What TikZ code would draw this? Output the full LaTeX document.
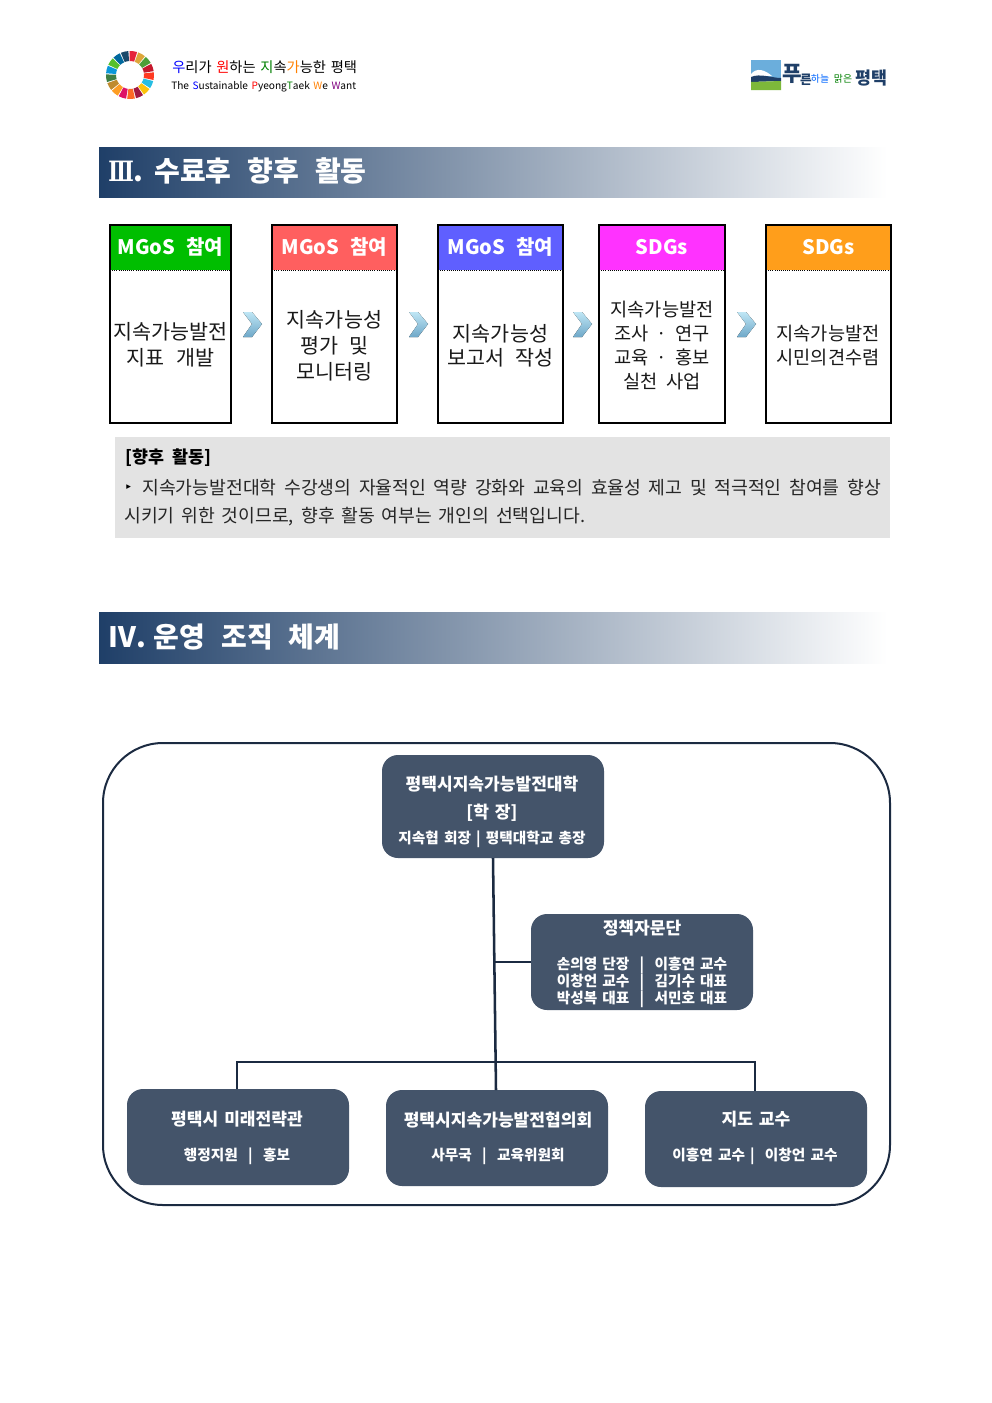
\documentclass[tikz,border=0pt]{standalone}
\usepackage{fontspec}
\setmainfont{Noto Sans CJK KR}
\newfontfamily\symfont{DejaVu Sans}
\newfontfamily\romfont{DejaVu Serif}
\usetikzlibrary{shapes.geometric,calc}
\definecolor{navy}{HTML}{1F3F68}
\definecolor{slate}{HTML}{44546A}
\definecolor{panel}{HTML}{E3E3E3}
\definecolor{hgreen}{HTML}{00BE00}
\definecolor{hred}{HTML}{FF5F5F}
\definecolor{hblue}{HTML}{5F5FFF}
\definecolor{hmag}{HTML}{FF32FF}
\definecolor{horange}{HTML}{FF9E1B}
\definecolor{darkline}{HTML}{1B2A41}
\definecolor{chevtop}{HTML}{BFE6F5}
\definecolor{chevbot}{HTML}{6FA8C8}
\definecolor{logosky}{HTML}{6BAEDC}
\definecolor{logogreen}{HTML}{7DB83A}
\newcommand{\ws}[1]{\spaceskip=#1em plus 1em minus .1em\relax}
\tikzset{x=0.75pt,y=-0.75pt,
 hbox/.style={draw=black,line width=1.5pt},
 htext/.style={font=\fontsize{15}{16}\selectfont\bfseries\ws{.55},text=white,inner sep=0pt},
 body/.style={font=\fontsize{15.5}{19.5}\selectfont\ws{.55},align=center,inner sep=0pt,text=black!90},
 bodyb/.style={font=\fontsize{15.5}{18}\selectfont\ws{.55},align=center,inner sep=0pt,text=black!90},
 bodyc/.style={font=\fontsize{14}{18}\selectfont\ws{.45},align=center,inner sep=0pt,text=black!90},
 sect/.style={font=\fontsize{21}{24}\selectfont\bfseries\ws{.57},text=white,anchor=west,inner sep=0pt},
 org/.style={fill=slate,rounded corners=12pt,draw=none,inner sep=0pt},
 orgt/.style={text=white,font=\fontsize{12.8}{15}\selectfont\bfseries\ws{.35},inner sep=0pt},
 orgs/.style={text=white,font=\fontsize{11}{12.7}\selectfont\bfseries\ws{.35},inner sep=0pt},
 conn/.style={draw=darkline,line width=1.9pt},
 para/.style={anchor=west,inner sep=0pt,font=\fontsize{13.7}{16}\selectfont,text=black!85}}
\newcommand{\stepcol}[4]{%
 \path[fill=#3] (#1,225) rectangle (#2,270);
 \node[htext] at ({(#1+#2)/2},247) {#4};
 \draw[black,densely dotted,line width=.6pt] (#1,270.5) -- (#2,270.5);
 \draw[hbox] (#1,225) rectangle (#2,423);
}
\newcommand{\chev}[1]{%
 \fill[top color=chevtop,bottom color=chevbot]
  (#1,312) -- (#1+9,312) -- (#1+19,324) -- (#1+9,337) -- (#1,337) -- (#1+9,324) -- cycle;
}
\begin{document}
\begin{tikzpicture}
\useasboundingbox (0,0) rectangle (992,1403);
\fill[white] (0,0) rectangle (992,1403);

% SDG wheel
\foreach \i/\cc in {0/E5243B,1/DDA63A,2/4C9F38,3/C5192D,4/FF3A21,5/26BDE2,6/FCC30B,7/A21942,8/FD6925,9/DD1367,10/FD9D24,11/BF8B2E,12/3F7E44,13/0A97D9,14/56C02B,15/00689D,16/19486A}{
 \definecolor{wc}{HTML}{\cc}
 \pgfmathsetmacro{\aa}{\i*21.18+8}
 \fill[wc] ({130+24*sin(\aa-9.2)},{75-24*cos(\aa-9.2)}) -- ({130+24*sin(\aa)},{75-24*cos(\aa)}) -- ({130+24*sin(\aa+9.2)},{75-24*cos(\aa+9.2)})
 -- ({130+14*sin(\aa+9.2)},{75-14*cos(\aa+9.2)}) -- ({130+14*sin(\aa)},{75-14*cos(\aa)}) -- ({130+14*sin(\aa-9.2)},{75-14*cos(\aa-9.2)}) -- cycle;
}
\node[anchor=west,inner sep=0pt,font=\fontsize{10.7}{13}\selectfont\ws{.33}] (tagko) at (172,67) {\textcolor{blue}{우}리가 \textcolor{red}{원}하는 \textcolor{green!50!black}{지}속\textcolor{orange}{가}능한 평택};
\node[anchor=west,inner sep=0pt,font=\fontsize{7.6}{9}\selectfont\ws{.35}] (tagen) at (171,87) {The \textcolor{blue}{S}ustainable \textcolor{red}{P}yeong\textcolor{green!50!black}{T}aek \textcolor{orange}{W}e \textcolor{violet}{W}ant};

% city logo
\fill[logosky] (751,60) rectangle (781,78);
\fill[white] (751,74) .. controls (757,67) and (765,70) .. (772,76) -- (751,77) -- cycle;
\fill[navy] (751,77) .. controls (760,73) and (772,78) .. (781,78) -- (781,81) -- (751,82) -- cycle;
\fill[logogreen] (751,82) -- (781,81) -- (781,90) -- (751,90) -- cycle;
\node[anchor=center,inner sep=0pt,text=navy,font=\fontsize{16}{19}\selectfont\bfseries] (lg1) at (792,74) {푸};
\node[anchor=center,inner sep=0pt,text=navy,font=\fontsize{9.5}{11}\selectfont\bfseries] (lg1b) at (806,80) {른};
\node[anchor=center,inner sep=0pt,text=blue!60!cyan,font=\fontsize{7.4}{9}\selectfont] (lg2) at (820,79) {하늘};
\node[anchor=center,inner sep=0pt,text=green!50!black,font=\fontsize{7.4}{9}\selectfont] (lg3) at (843,79) {맑은};
\node[anchor=center,inner sep=0pt,text=navy,font=\fontsize{13}{15}\selectfont\bfseries] (lg4) at (871,78) {평택};

% section bars
\fill[left color=navy,right color=white] (99,147) rectangle (887,197);
\node[sect] (s3) at (108,171) {\scalebox{.75}[1]{\romfont Ⅲ}.\hspace{8pt}수료후 향후 활동};
\fill[left color=navy,right color=white] (99,612) rectangle (887,663);
\node[sect] (s4) at (108,637) {Ⅳ.\hspace{5.9pt}운영 조직 체계};

% steps
\stepcol{110}{231}{hgreen}{MGoS 참여}
\stepcol{272}{397}{hred}{MGoS 참여}
\stepcol{438}{563}{hblue}{MGoS 참여}
\stepcol{599}{725}{hmag}{SDGs}
\stepcol{766}{891}{horange}{SDGs}
\node[body] (b1) at (170.5,345) {지속가능발전\\지표 개발};
\node[body] (b2) at (334.5,345.5) {지속가능성\\평가 및\\모니터링};
\node[bodyb] (b3) at (500.5,345.5) {지속가능성\\보고서 작성};
\node[bodyc] (b4) at (662,345.5) {지속가능발전\\조사 · 연구\\교육 · 홍보\\실천 사업};
\node[bodyc] (b5) at (828,345.5) {지속가능발전\\시민의견수렴};
\chev{243}\chev{409}\chev{573}\chev{737}

% activity panel
\fill[panel] (115,437) rectangle (890,538);
\node[anchor=west,inner sep=0pt,font=\fontsize{13}{15}\selectfont\bfseries\ws{.5}] (a0) at (125,458) {[향후 활동]};
\node[anchor=west,inner sep=0pt,font=\symfont\fontsize{7}{8}\selectfont] (a1b) at (126,487.5) {▸};
\node[para] (a1) at (142,487.5) {\makebox[554pt][s]{지속가능발전대학 수강생의 자율적인 역량 강화와 교육의 효율성 제고 및 적극적인 참여를 향상}};
\node[para] (a2) at (124,516.5) {\makebox[345.7pt][s]{시키기 위한 것이므로, 향후 활동 여부는 개인의 선택입니다.}};

% org frame
\draw[darkline,line width=1.5pt,rounded corners=45pt] (103,743) rectangle (890,1205);

% org boxes
\fill[org] (382,755) rectangle (604,858);
\coordinate (top) at (493,858);
\fill[org] (531,914) rectangle (753,1010);
\coordinate (adv) at (531,962);
\fill[org] (127,1089) rectangle (349,1185);
\coordinate (l) at (237,1089);
\fill[org] (386,1090) rectangle (608,1186);
\coordinate (c) at (496,1090);
\fill[org] (645,1091) rectangle (867,1187);
\coordinate (r) at (755,1091);
\draw[conn] (top) -- (c);
\draw[conn] (495,962) -- (adv);
\draw[conn] (l) -- (237,1062) -- (755,1062) -- (r);

\node[orgt] (t1) at (492,784) {평택시지속가능발전대학};
\node[orgt] (t1b) at (492,813) {[학 장]};
\node[orgs] (t1c) at (492,839.5) {지속협 회장 | 평택대학교 총장};
\node[orgt] (t2) at (642,928) {정책자문단};
\node[orgs,align=center] (t2b) at (642,982.5) {손의영 단장 \ | \ 이흥연 교수\\이창언 교수 \ | \ 김기수 대표\\박성복 대표 \ | \ 서민호 대표};
\node[orgt] (t3) at (237,1119) {평택시 미래전략관};
\node[orgs] (t3b) at (237,1156) {행정지원 \ | \ 홍보};
\node[orgt] (t4) at (498,1120) {평택시지속가능발전협의회};
\node[orgs] (t4b) at (498,1156) {사무국 \ | \ 교육위원회};
\node[orgt] (t5) at (756,1119) {지도 교수};
\node[orgs] (t5b) at (755,1156) {이흥연 교수 | \ 이창언 교수};
\end{tikzpicture}
\end{document}
